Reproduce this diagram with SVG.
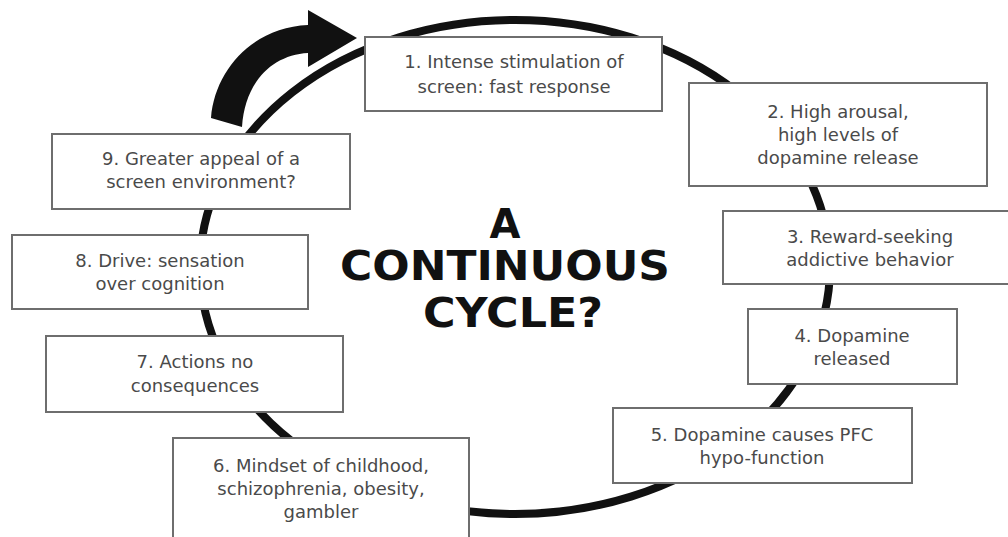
<svg xmlns="http://www.w3.org/2000/svg" width="1008" height="537" viewBox="0 0 1008 537">
  <style>
    .box { fill: #ffffff; stroke: #6e6e6e; stroke-width: 2; }
    .lbl { font-family: "DejaVu Sans", "Liberation Sans", sans-serif; font-size: 18px; fill: #4a4a4a; text-anchor: middle; }
    .title { font-family: "DejaVu Sans", "Liberation Sans", sans-serif; font-weight: bold; font-size: 40px; fill: #111111; text-anchor: middle; }
    .cycle { fill: none; stroke: #111111; stroke-width: 8; }
    .bigarrow { fill: #111111; stroke: #ffffff; stroke-width: 7; paint-order: stroke; stroke-linejoin: round; }
  </style>
  <rect width="1008" height="537" fill="#ffffff"/>
  <g id="connectors">
    <ellipse class="cycle" cx="515" cy="267" rx="315" ry="247"/>
    <path class="bigarrow" d="M211,118 C215,68 255,27 308,25 L308,10 L357,38 L308,67 L308,53 C272,55 245,82 242,127 Z"/>
  </g>
  <g id="title">
    <text class="title" x="505" y="238">A</text>
    <text class="title" x="505" y="280" textLength="330" lengthAdjust="spacingAndGlyphs">CONTINUOUS</text>
    <text class="title" x="513" y="327" textLength="180" lengthAdjust="spacingAndGlyphs">CYCLE?</text>
  </g>
  <g id="node1">
    <rect class="box" x="365" y="37" width="297" height="74"/>
    <text class="lbl" x="514" y="68">1. Intense stimulation of</text>
    <text class="lbl" x="514" y="93">screen: fast response</text>
  </g>
  <g id="node2">
    <rect class="box" x="689" y="83" width="298" height="103"/>
    <text class="lbl" x="838" y="118">2. High arousal,</text>
    <text class="lbl" x="838" y="141">high levels of</text>
    <text class="lbl" x="838" y="164">dopamine release</text>
  </g>
  <g id="node3">
    <rect class="box" x="723" y="211" width="294" height="73"/>
    <text class="lbl" x="870" y="243">3. Reward-seeking</text>
    <text class="lbl" x="870" y="266">addictive behavior</text>
  </g>
  <g id="node4">
    <rect class="box" x="748" y="309" width="209" height="75"/>
    <text class="lbl" x="852" y="342">4. Dopamine</text>
    <text class="lbl" x="852" y="365">released</text>
  </g>
  <g id="node5">
    <rect class="box" x="613" y="408" width="299" height="75"/>
    <text class="lbl" x="762" y="441">5. Dopamine causes PFC</text>
    <text class="lbl" x="762" y="464">hypo-function</text>
  </g>
  <g id="node6">
    <rect class="box" x="173" y="438" width="296" height="120"/>
    <text class="lbl" x="321" y="472">6. Mindset of childhood,</text>
    <text class="lbl" x="321" y="495">schizophrenia, obesity,</text>
    <text class="lbl" x="321" y="518">gambler</text>
  </g>
  <g id="node7">
    <rect class="box" x="46" y="336" width="297" height="76"/>
    <text class="lbl" x="195" y="368">7. Actions no</text>
    <text class="lbl" x="195" y="392">consequences</text>
  </g>
  <g id="node8">
    <rect class="box" x="12" y="235" width="296" height="74"/>
    <text class="lbl" x="160" y="267">8. Drive: sensation</text>
    <text class="lbl" x="160" y="290">over cognition</text>
  </g>
  <g id="node9">
    <rect class="box" x="52" y="134" width="298" height="75"/>
    <text class="lbl" x="201" y="165">9. Greater appeal of a</text>
    <text class="lbl" x="201" y="188">screen environment?</text>
  </g>
</svg>
